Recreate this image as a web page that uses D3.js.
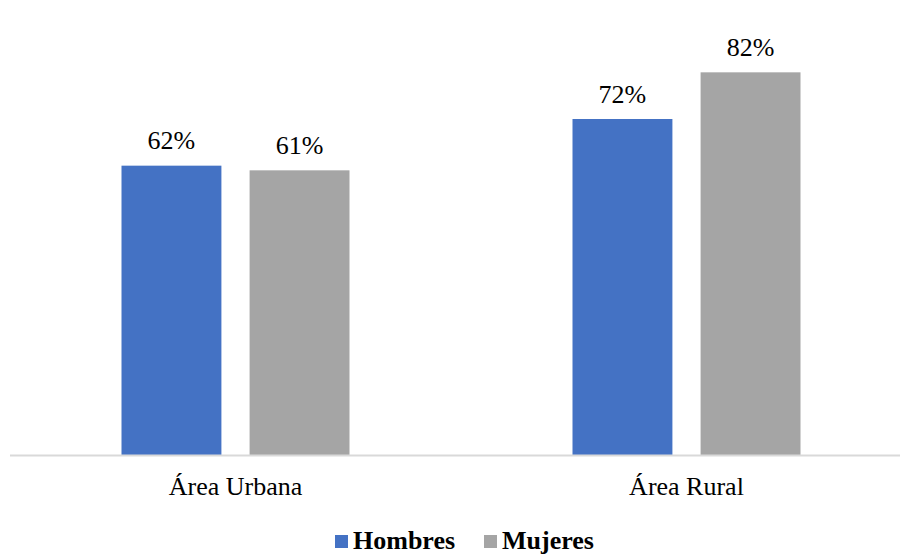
<!DOCTYPE html>
<html>
<head>
<meta charset="utf-8">
<script src="https://cdn.jsdelivr.net/npm/d3@7"></script>
</head>
<body style="margin:0">
<svg id="chart" width="900" height="554"></svg>
<script>
// Data
const categories = ["Área Urbana", "Área Rural"];
const seriesNames = ["Hombres", "Mujeres"];
const hombres = [0.62, 0.72];
const mujeres = [0.61, 0.82];
const colors = ["#4472C4", "#A5A5A5"];

const svg = d3.select("#chart");
const serif = "Liberation Serif";

const x0 = d3.scaleBand().domain(categories).range([10, 912]);
const x1 = d3.scaleBand().domain(seriesNames).range([0, 228]).paddingInner(0.22);
const y = d3.scaleLinear().domain([0, 0.9]).range([455, 35]);

const rows = categories.map((c, i) => ({
  cat: c,
  vals: [
    { s: seriesNames[0], v: hombres[i], color: colors[0] },
    { s: seriesNames[1], v: mujeres[i], color: colors[1] }
  ]
}));

const groupWidth = 228;
const g = svg.selectAll("g.cat").data(rows).join("g")
  .attr("class", "cat")
  .attr("transform", d => `translate(${x0(d.cat) + x0.bandwidth() / 2 - groupWidth / 2},0)`);

g.selectAll("rect").data(d => d.vals).join("rect")
  .attr("x", d => x1(d.s))
  .attr("width", x1.bandwidth())
  .attr("y", d => y(d.v))
  .attr("height", d => y(0) - y(d.v))
  .attr("fill", d => d.color);

// Value labels above each bar
g.selectAll("text.val").data(d => d.vals).join("text")
  .attr("class", "val")
  .attr("x", d => x1(d.s) + x1.bandwidth() / 2)
  .attr("y", d => y(d.v) - 16.5)
  .attr("text-anchor", "middle")
  .style("font-family", serif)
  .attr("font-size", 26)
  .attr("fill", "#000")
  .text(d => d3.format(".0%")(d.v));

// Category axis
const axis = svg.append("g")
  .attr("transform", `translate(0,${y(0)})`)
  .call(d3.axisBottom(x0).tickSize(0).tickPadding(22));
axis.attr("font-family", null).attr("font-size", null);
axis.select(".domain").attr("stroke", "#D9D9D9").attr("stroke-width", 2)
  .attr("d", "M10,0.5H912");
axis.selectAll("text")
  .style("font-family", serif)
  .attr("font-size", 26)
  .attr("fill", "#000");

// Legend
const legend = svg.append("g").attr("transform", "translate(335,535)");
const items = [{ name: seriesNames[0], color: colors[0], x: 0 }, { name: seriesNames[1], color: colors[1], x: 149 }];
const li = legend.selectAll("g").data(items).join("g")
  .attr("transform", d => `translate(${d.x},0)`);
li.append("rect").attr("width", 13).attr("height", 13).attr("fill", d => d.color);
li.append("text")
  .attr("x", 18).attr("y", 14)
  .style("font-family", serif)
  .attr("font-weight", "bold")
  .attr("font-size", 26)
  .attr("fill", "#000")
  .text(d => d.name);
</script>
</body>
</html>
